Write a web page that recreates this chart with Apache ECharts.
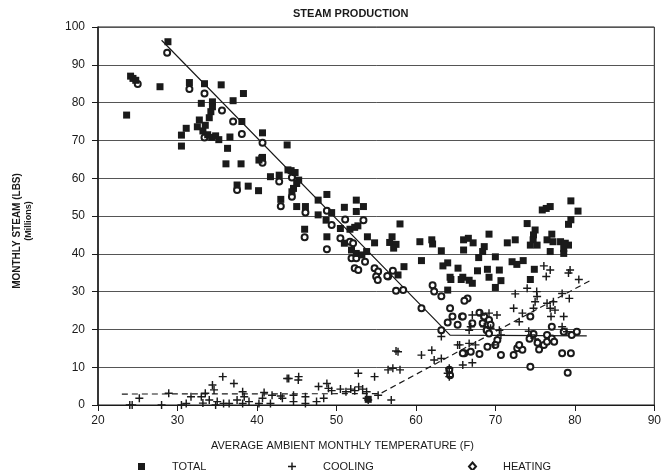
<!DOCTYPE html>
<html>
<head>
<meta charset="utf-8">
<script src="https://cdn.jsdelivr.net/npm/echarts@6/dist/echarts.min.js"></script>
<style>
html,body{margin:0;padding:0;background:#fff;}
#chart{width:664px;height:470px;}
</style>
</head>
<body>
<div id="chart"></div>
<script>
var xTicks = [20, 30, 40, 50, 60, 70, 80, 90];
var yTicks = [0, 10, 20, 30, 40, 50, 60, 70, 80, 90, 100];

var totalPoints = [
[23.6,76.7],[24.1,87],[24.4,86.4],[24.75,85.9],[27.8,84.2],[28.8,96.1],
[31.5,85.3],[33.4,85],[35.5,84.7],[38.3,82.4],[37,80.5],[33,79.8],[34.4,80.2],[34.4,78.9],[34.2,77.6],
[38.1,75],[40.7,72],[31.1,73.2],[30.5,71.4],[30.5,68.5],[32.5,73.6],[32.75,75.4],
[33.2,72.5],[33.8,71.5],[34.3,70.8],[34.8,71.2],[35.2,70.2],[33.5,74],[34,76],
[36.3,67.9],[36.6,70.9],[40.7,65.5],[43.8,68.8],
[36.1,63.8],[38,63.8],[40.25,64.8],[40.6,65.3],[41.7,60.4],[42.8,60.8],[43.9,62.2],
[37.5,58.2],[38.9,57.9],[40.2,56.7],[43,54.4],
[44.3,62],[44.8,61.5],[45.25,59.5],[45,58.6],[44.6,57.3],[44.4,56.4],
[45,52.5],[46.1,52.5],[47.7,54.2],[48.8,55.7],[47.7,50.3],[49.4,50.9],[48.7,48.9],[46,46.5],
[51,52.3],[52.5,54.2],[53.4,52.5],[52.5,51.2],[50.5,46.7],[51.7,46.5],[52.3,47],[52.7,47.4],
[48.8,44.5],[51,42.8],[53.9,44.5],[54.8,42.9],[51.9,41],[52.5,40.1],[53.2,39.7],[53.8,40.6],
[57.75,34.4],[58.5,36.6],[56.7,43],[57,44.5],[57.5,42.5],[57.2,41.5],[58,47.9],
[60.5,43.2],[62,43.7],[62.1,42.6],[63.2,40.8],[66,43.7],[66,41],[60.7,38.2],[64,37.6],[63.4,36.8],[65.3,36.2],[64.3,33.8],[65.9,33.8],
[79.5,54],[75.9,51.6],[76.4,52],[76.9,52.5],[80.4,51.3],[74,48],[79.2,47.8],[79.5,49],
[75,46.3],[74.8,45],[74.75,43.7],[74.4,42.3],[75.25,42.3],
[77.1,45.2],[76.5,43.7],[77.25,43.2],[78.2,43.2],[78.8,42.8],[79.2,42.3],[78.6,41.4],[78.6,40.1],[76.9,40.6],
[69.2,45.2],[66.6,44.1],[67.2,42.9],[71.5,42.9],[72.5,43.7],
[68.6,41.9],[68.4,40.6],[67.9,39],[70,39.2],[72.1,37.9],[72.7,37.2],[73.5,38.2],
[67.75,35.5],[69,35.9],[70.5,35.7],[74.9,35.9],[69.2,33.8],[70.7,32.9],
[64.4,33.2],[65.7,33.2],[66.7,33],[67.1,32.2],[74.4,33.2],[70,31.1],[64,30.4],[54,1.5]
];

var coolingPoints = [
[24,0],[24.3,0],[25.2,1.8],[28,0],[28.9,3.1],[30.5,0],[31.1,0.4],[31.7,2.2],
[33,2.2],[33.5,3.1],[34,1.3],[33.2,0.5],[34.4,5.3],[34.6,4],[35.7,7.5],[37.1,5.7],
[34.8,0],[35,0.9],[35.8,0.4],[36.5,0.4],[37.5,1.3],[38.2,0.4],[39,0.9],[38.2,3.5],[38.4,2.2],
[40.9,3.3],[40.7,1.8],[40.25,0.4],[41.7,0.4],[43,2.4],[43.2,1.8],[43.8,7],[41.9,2.6],
[44,7],[45.25,7.5],[45.2,6.6],[44.6,2.6],[46.1,2.2],[44.6,0.9],[46.1,0.4],[47.5,0.9],[48.4,1.8],
[47.75,4.9],[48.8,5.7],[49,4.4],[49.4,3.8],[50.5,4.2],[51.2,3.5],[51.8,4.2],[52.3,3.8],[52.8,4.8],[53.3,4.2],[53.8,3.5],
[52.75,8.4],[54.8,7.5],[55.25,2.6],[53.8,1.8],[54,1.3],[56.9,1.3],
[56.5,9.3],[57.1,9.7],[58,9.3],[57.75,14.1],[57.5,14.3],
[60.7,13.2],[62,14.5],[62.3,11.9],[63.2,12.3],[63.2,18.1],[64.2,9.7],[64.2,7.5],[64,8.4],[65.9,10.6],[67.1,11.2],[65.5,15.9],
[65.25,15.9],[66.7,16.3],[67.5,15.9],[69.8,15.9],
[66.7,19.8],[66.9,20.7],[68.6,20.7],[69.4,20.3],[70.5,19.8],[70.7,18.5],
[67.1,23.8],[68.2,23.8],[69.2,24.3],[70.2,23.8],
[72.5,29.4],[74,30.9],[75.2,30],[75.25,28.7],[75,27.3],[78.4,29.5],[79.3,28.2],[76.5,26.9],[77.3,27.3],[76.9,25.6],[77.5,25.1],
[72.3,25.6],[73.4,24.3],[74.8,25.6],[78.6,23.4],[77,23.4],[73,22],
[76.1,36.8],[76.9,35.7],[76.4,34],[80.5,33.2],[79.4,35.7],[79.2,34.9],
[78.4,20.7],[79,19.4],[74.5,18.5],[75,17.5],[74.2,19.5]
];

var heatingPoints = [
[28.7,93.2],[25,84.9],[31.5,83.6],[33.4,82.4],[35.6,77.9],[37,75],[38.1,71.7],[40.7,69.4],[33.4,70.8],
[40.7,64.1],[42.8,59.1],[37.5,56.9],[43,52.6],[44.4,60.2],[44.4,55.1],[46.1,50.9],[48.8,51.4],[46,44.4],
[49.4,47.6],[51.1,49.1],[53.4,48.9],[48.8,41.2],[50.5,44.1],[51.7,43.2],[52.1,42.8],
[51.9,38.8],[52.5,38.8],[53.6,37.9],[52.3,36.2],[52.75,35.7],[54.8,36.2],[55.25,35.3],[55,34],[56.5,34],[57.1,35.5],
[55.2,33.1],[56.4,34.1],[57.5,30.2],[58.4,30.4],[60.7,25.6],[62.1,31.7],[62.3,30],[63.2,28.8],
[64.3,25.6],[64.6,23.4],[64,21.8],[65.25,21.2],[63.2,19.8],[65.8,23.4],[66.1,13.7],
[66.5,28.2],[66.1,27.6],[65.9,23.4],[68,24.4],[68.6,23.4],[69.2,22.5],[69.4,21.2],
[67.1,21.6],[68.9,19.8],[69.2,18.9],[68.4,21.6],
[70.25,17.2],[70,15.9],[69,15.4],[70.7,13.2],[65.9,13.7],[66.9,14.1],[68,13.5],
[72.3,13.2],[72.75,15],[73.4,14.6],[73,15.9],[74.4,23.4],
[75.5,14.7],[76.1,15.9],[76.5,16.7],[76.5,18.5],[77.1,17.6],[77.4,16.7],[78.4,13.7],[79.5,13.7],
[79.6,18.5],[80.25,19.4],[78.6,19.4],[77.1,20.7],[74.4,10.1],[79.1,8.5],[64.2,9.3],[64.3,7.9],
[74.3,17.5],[74.8,18.8],[75.3,16.5]
];

var heatingFit = [[28, 96.5], [64.3, 18.5], [81.5, 18.3]];
var coolingFit = [[23, 2.9], [55.5, 3.0], [82, 33]];

var INK = '#1a1a1a';
var FONT = 'Liberation Sans';
var PLUS = 'path://M4.1,0H5.9V4.1H10V5.9H5.9V10H4.1V5.9H0V4.1H4.1Z';

var chart = echarts.init(document.getElementById('chart'), null, {renderer: 'canvas'});
chart.setOption({
  animation: false,
  backgroundColor: '#fff',
  textStyle: {fontFamily: FONT, color: INK},
  grid: {left: 98, right: 6, top: 27, bottom: 65, show: true, borderColor: INK, borderWidth: 1, backgroundColor: 'transparent'},
  xAxis: {
    type: 'value', min: xTicks[0], max: xTicks[xTicks.length - 1], interval: 10,
    axisLine: {show: true, onZero: false, lineStyle: {color: INK, width: 1}},
    axisTick: {show: true, length: 6, inside: false, lineStyle: {color: INK}},
    axisLabel: {color: INK, fontSize: 12, fontFamily: FONT, margin: 10},
    splitLine: {show: false}
  },
  yAxis: {
    type: 'value', min: yTicks[0], max: yTicks[yTicks.length - 1], interval: 10,
    axisLine: {show: true, lineStyle: {color: INK, width: 1.5}},
    axisTick: {show: true, length: 6, lineStyle: {color: INK}},
    axisLabel: {color: INK, fontSize: 12, fontFamily: FONT, margin: 13},
    splitLine: {show: true, lineStyle: {color: '#555', width: 1}}
  },
  legend: [
    {data: [{name: 'TOTAL', icon: 'rect'}], left: 133, top: 456, itemWidth: 7, itemHeight: 7,
     textStyle: {fontSize: 11, color: INK, fontFamily: FONT, padding: [0, 0, 0, 22]}},
    {data: [{name: 'COOLING', icon: PLUS}], left: 283, top: 456, itemWidth: 8, itemHeight: 8,
     textStyle: {fontSize: 11, color: INK, fontFamily: FONT, padding: [0, 0, 0, 22]}},
    {data: [{name: 'HEATING', icon: 'emptyDiamond'}], left: 463, top: 456, itemWidth: 7, itemHeight: 8,
     textStyle: {fontSize: 11, color: INK, fontFamily: FONT, padding: [0, 0, 0, 22]}}
  ],
  graphic: [
    {type: 'text', left: 293, top: 8, style: {text: 'STEAM PRODUCTION', font: 'bold 11px "Liberation Sans"', fill: INK}},
    {type: 'text', left: 211, top: 440, style: {text: 'AVERAGE AMBIENT MONTHLY TEMPERATURE (F)', font: '11px "Liberation Sans"', fill: INK}},
    {type: 'text', x: 17, y: 231, rotation: Math.PI / 2, style: {text: 'MONTHLY STEAM (LBS)', font: 'bold 10px "Liberation Sans"', fill: INK, textAlign: 'center', textVerticalAlign: 'middle'}},
    {type: 'text', x: 29, y: 221, rotation: Math.PI / 2, style: {text: '(Millions)', font: 'bold 9px "Liberation Sans"', fill: INK, textAlign: 'center', textVerticalAlign: 'middle'}}
  ],
  series: [
    {name: 'HEATING FIT', type: 'line', data: heatingFit, symbol: 'none', silent: true,
     lineStyle: {color: INK, width: 1.2}, z: 1},
    {name: 'COOLING FIT', type: 'line', data: coolingFit, symbol: 'none', silent: true,
     lineStyle: {color: INK, width: 1.2, type: [6, 4]}, z: 1},
    {name: 'HEATING', type: 'scatter', data: heatingPoints, symbol: 'emptyCircle', symbolSize: 6,
     itemStyle: {color: INK, borderColor: INK, borderWidth: 1.5, opacity: 1}, z: 2},
    {name: 'COOLING', type: 'scatter', data: coolingPoints, symbol: PLUS, symbolSize: 8,
     itemStyle: {color: INK, opacity: 1}, z: 3},
    {name: 'TOTAL', type: 'scatter', data: totalPoints, symbol: 'rect', symbolSize: 7,
     itemStyle: {color: INK, opacity: 1}, z: 4}
  ]
});
</script>
</body>
</html>
